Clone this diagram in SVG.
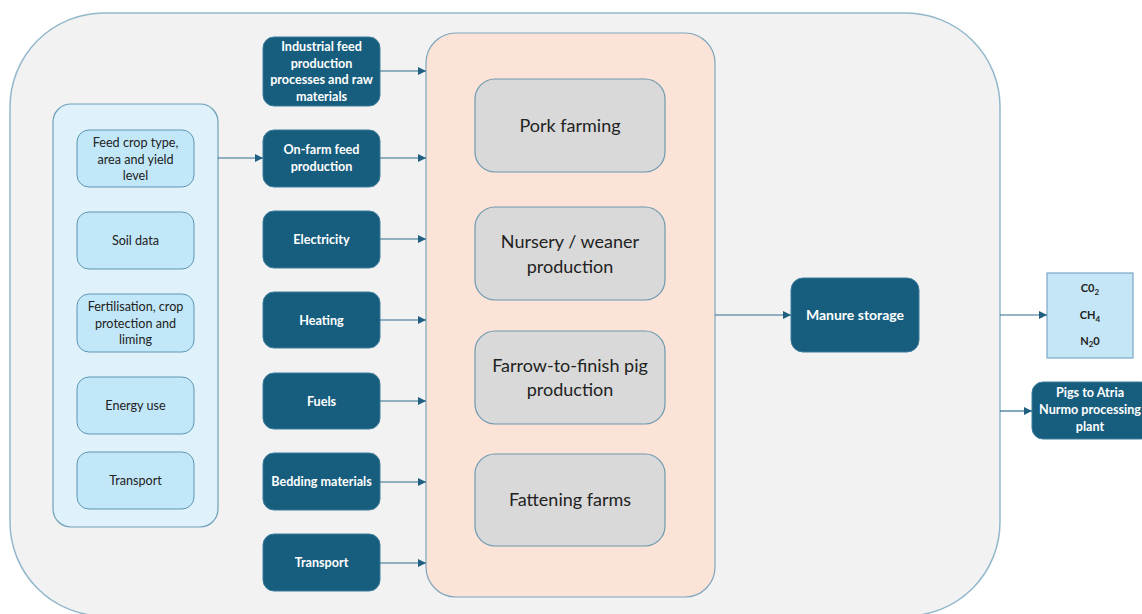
<svg xmlns="http://www.w3.org/2000/svg" width="1142" height="614" viewBox="0 0 1142 614">
<style>
.dark rect{fill:#175E7E;stroke:#3C7C9A;stroke-width:1}
.dark text{fill:#fff;font-family:Lato,"Open Sans",sans-serif;font-weight:bold;font-size:12.6px;text-anchor:middle}
.lt rect{fill:#C1E7F8;stroke:#5E96B2;stroke-width:1}
.lt text{fill:#222;font-family:Lato,"Open Sans",sans-serif;font-size:12.6px;text-anchor:middle}
.gr rect{fill:#D9D9D9;stroke:#6E98AE;stroke-width:1.2}
.gr text{fill:#222;font-family:Lato,"Open Sans",sans-serif;font-size:18px;text-anchor:middle}
.conn line{stroke:#2F6C8C;stroke-width:1.2;marker-end:url(#ah)}
</style>
<defs>
<marker id="ah" viewBox="0 0 10 10" refX="10" refY="5" markerWidth="8" markerHeight="8" markerUnits="userSpaceOnUse" orient="auto">
<path d="M0,0 L10,5 L0,10 z" fill="#1F5F80"/>
</marker>
</defs>
<rect width="1142" height="614" fill="#fff"/>
<g id="outer">
<rect x="10" y="13" width="990" height="603" rx="94" ry="94" fill="#F2F2F2" stroke="#93B8CC" stroke-width="1.5"/>
</g>
<g id="inputs-group">
<rect x="53" y="104" width="165" height="423" rx="18" fill="#DFF2FB" stroke="#6E9FB8" stroke-width="1.2"/>
</g>
<g id="farm-group">
<rect x="426" y="33" width="289" height="564" rx="30" fill="#FBE3D8" stroke="#7FA6BC" stroke-width="1.2"/>
</g>
<g id="feedcrop" class="lt"><rect x="77" y="130" width="117" height="57" rx="12"/><text x="135.5" y="147">Feed crop type,</text><text x="135.5" y="163.5">area and yield</text><text x="135.5" y="180">level</text></g>
<g id="soil" class="lt"><rect x="77" y="212" width="117" height="57" rx="12"/><text x="135.5" y="245">Soil data</text></g>
<g id="fert" class="lt"><rect x="77" y="294" width="117" height="58" rx="12"/><text x="135.5" y="311">Fertilisation, crop</text><text x="135.5" y="327.5">protection and</text><text x="135.5" y="344">liming</text></g>
<g id="energy" class="lt"><rect x="77" y="377" width="117" height="57" rx="12"/><text x="135.5" y="410">Energy use</text></g>
<g id="transport1" class="lt"><rect x="77" y="452" width="117" height="57" rx="12"/><text x="135.5" y="484.5">Transport</text></g>
<g id="industrial" class="dark"><rect x="263" y="37" width="117" height="69" rx="11"/><text x="321.5" y="51">Industrial feed</text><text x="321.5" y="67.5">production</text><text x="321.5" y="84">processes and raw</text><text x="321.5" y="100.5">materials</text></g>
<g id="onfarm" class="dark"><rect x="263" y="130" width="117" height="57" rx="11"/><text x="321.5" y="154">On-farm feed</text><text x="321.5" y="171">production</text></g>
<g id="electricity" class="dark"><rect x="263" y="211" width="117" height="57" rx="11"/><text x="321.5" y="243.5">Electricity</text></g>
<g id="heating" class="dark"><rect x="263" y="292" width="117" height="56" rx="11"/><text x="321.5" y="325">Heating</text></g>
<g id="fuels" class="dark"><rect x="263" y="373" width="117" height="56" rx="11"/><text x="321.5" y="405.5">Fuels</text></g>
<g id="bedding" class="dark"><rect x="263" y="453" width="117" height="57" rx="11"/><text x="321.5" y="486">Bedding materials</text></g>
<g id="transport2" class="dark"><rect x="263" y="534" width="117" height="57" rx="11"/><text x="321.5" y="567">Transport</text></g>
<g id="pork" class="gr"><rect x="475" y="79" width="190" height="93" rx="20"/><text x="570" y="132">Pork farming</text></g>
<g id="nursery" class="gr"><rect x="475" y="207" width="190" height="93" rx="20"/><text x="570" y="248">Nursery / weaner</text><text x="570" y="273">production</text></g>
<g id="farrow" class="gr"><rect x="475" y="331" width="190" height="93" rx="20"/><text x="570" y="372">Farrow-to-finish pig</text><text x="570" y="396">production</text></g>
<g id="fattening" class="gr"><rect x="475" y="454" width="190" height="92" rx="20"/><text x="570" y="506">Fattening farms</text></g>
<g id="manure" class="dark"><rect x="791" y="278" width="128" height="74" rx="12"/><text x="855" y="320" style="font-size:14px">Manure storage</text></g>
<g id="gases">
<rect x="1047" y="273" width="86" height="85" fill="#C5E6F6" stroke="#7BA7C7" stroke-width="1.2"/>
<g font-family="Lato,'Open Sans',sans-serif" font-weight="bold" font-size="11px" fill="#222" text-anchor="middle">
<text x="1090" y="292">C0<tspan font-size="8" dy="3">2</tspan></text>
<text x="1090" y="319">CH<tspan font-size="8" dy="3">4</tspan></text>
<text x="1090" y="345">N<tspan font-size="8" dy="2">2</tspan><tspan dy="-2">0</tspan></text>
</g>
</g>
<g id="pigs" class="dark"><rect x="1032" y="382" width="120" height="57" rx="11"/><text x="1090" y="397">Pigs to Atria</text><text x="1090" y="414">Nurmo processing</text><text x="1090" y="431">plant</text></g>
<g id="connectors" class="conn">
<line x1="218" y1="158" x2="263" y2="158"/>
<line x1="380" y1="71" x2="426" y2="71"/>
<line x1="380" y1="158" x2="426" y2="158"/>
<line x1="380" y1="239" x2="426" y2="239"/>
<line x1="380" y1="320" x2="426" y2="320"/>
<line x1="380" y1="401" x2="426" y2="401"/>
<line x1="380" y1="482" x2="426" y2="482"/>
<line x1="380" y1="563" x2="426" y2="563"/>
<line x1="715" y1="315" x2="791" y2="315"/>
<line x1="1000" y1="315" x2="1047" y2="315"/>
<line x1="1000" y1="411" x2="1032" y2="411"/>
</g>
</svg>
